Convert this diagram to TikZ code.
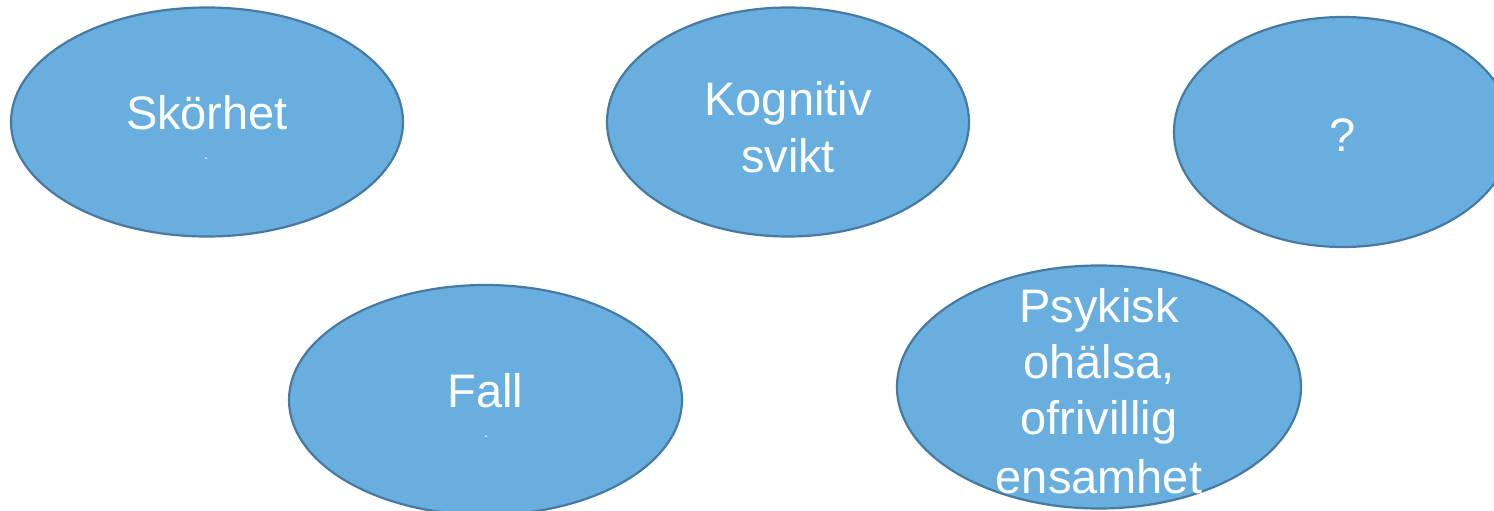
\documentclass[tikz,border=0pt]{standalone}
\usepackage{fontspec}
\setmainfont{Liberation Sans}
\usetikzlibrary{shapes.geometric}
\definecolor{blobfill}{RGB}{104,175,224}
\definecolor{blobline}{RGB}{70,122,162}
\begin{document}
\begin{tikzpicture}[x=1pt,y=-1pt,
  blob/.style={ellipse, draw=blobline, fill=blobfill, line width=2.2pt, inner sep=0pt},
  lbl/.style={text=white, font=\fontsize{47}{57}\selectfont, inner sep=0pt, anchor=base},
  dotlbl/.style={text=white, font=\fontsize{14}{16}\selectfont, inner sep=0pt, anchor=base}]
\useasboundingbox (0,0) rectangle (1494,511);
\fill[white] (0,0) rectangle (1494,511);
% ellipses
\node[blob, minimum width=392pt, minimum height=229pt] (sk) at (207,122) {};
\node[blob, minimum width=362pt, minimum height=229pt] (ko) at (788,122) {};
\node[blob, minimum width=338pt, minimum height=230pt] (qq) at (1343,132) {};
\node[blob, minimum width=393pt, minimum height=230pt] (fa) at (485.5,400) {};
\node[blob, minimum width=404pt, minimum height=243pt] (ps) at (1099,387) {};
% labels
\node[lbl] (skt) at (207,129) {Skörhet};
\node[dotlbl] (skd) at (206,159) {.};
\node[lbl] (ko1) at (788,115) {Kognitiv};
\node[lbl] (ko2) at (788,172) {svikt};
\node[lbl] (qqt) at (1343,151) {?};
\node[lbl] (fat) at (485.5,407) {Fall};
\node[dotlbl] (fad) at (486,437) {.};
\node[lbl] (ps1) at (1099,322) {Psykisk};
\node[lbl] (ps2) at (1099,378) {ohälsa,};
\node[lbl] (ps3) at (1099,434) {ofrivillig};
\node[lbl] (ps4) at (1099,493) {ensamhet};
\end{tikzpicture}
\end{document}
